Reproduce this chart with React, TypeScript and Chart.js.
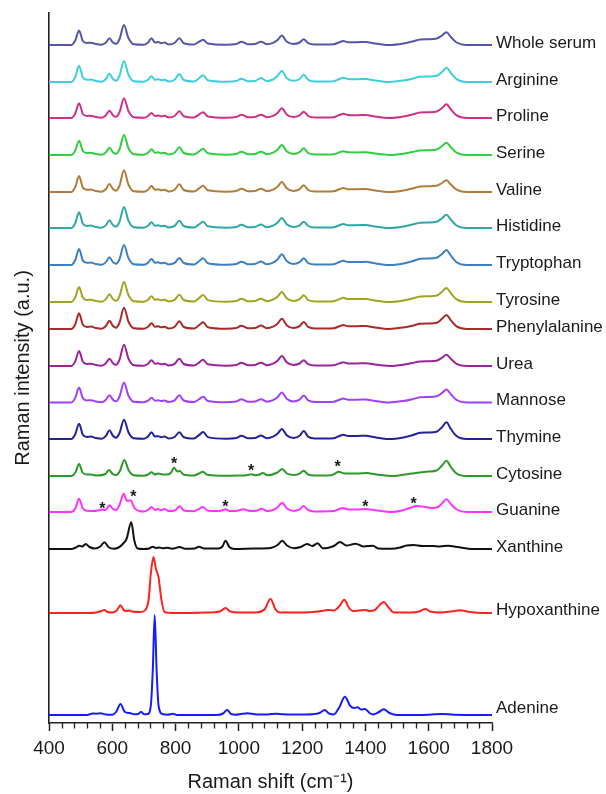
import React, { useEffect, useRef } from 'react';
import { Chart, registerables } from 'chart.js';

Chart.register(...registerables);

// ---------- data ----------
const xMin = 400;
const xMax = 1800;
const majorStep = 200;
const minorStep = 40;

const seriesNames = [
  'Whole serum', 'Arginine', 'Proline', 'Serine', 'Valine', 'Histidine',
  'Tryptophan', 'Tyrosine', 'Phenylalanine', 'Urea', 'Mannose', 'Thymine',
  'Cytosine', 'Guanine', 'Xanthine', 'Hypoxanthine', 'Adenine',
];

// vertical stacking offsets (a.u.)
const offsets = [678, 641, 605, 568, 531, 495, 458, 421, 394, 357, 320.5, 284, 247, 211, 174, 110, 8];

// shared Raman-shift grid of the serum-like spectra (cm-1)
const serumShift = [
  400, 470, 483, 495, 507, 520, 532,
  548, 566, 580, 591, 602, 612, 623, 637, 651, 668,
  700, 713, 724, 735, 745, 755, 765, 778, 797, 812, 826,
  858, 873, 887, 902, 960, 992, 1008, 1028,
  1050, 1070, 1088, 1108, 1122, 1136, 1151, 1172, 1192, 1205, 1219, 1240,
  1300, 1318, 1330, 1345, 1372, 1402, 1425, 1475,
  1520, 1548, 1573, 1600, 1625, 1642, 1656, 1670, 1688, 1720, 1800,
];

const wholeSerum = [
  0, 0, 4.5, 14.5, 4, 2, 2.3,
  1, 0.3, 2.5, 6.7, 2.5, 1.2, 6, 20, 7, 0.8,
  0.3, 2.5, 6.7, 2.5, 3, 1.8, 2.5, 0.5, 2, 6.7, 1.8,
  0.5, 3, 5.3, 1.5, 0.3, 1, 3.3, 0.8,
  1, 3.3, 0.8, 2.2, 5, 9.5, 3.5, 1, 2.5, 5.7, 1.8, 0.5,
  0.8, 2.8, 4, 2.8, 2.8, 3, 1.8, 0,
  1.5, 3.5, 5.5, 5.8, 6.5, 9.5, 12.8, 8, 2.5, 0, 0,
];
const arginine = [
  0, 0, 5, 16.3, 4.5, 2.2, 2.5,
  1, 0.3, 3, 8.3, 3, 1.3, 6.5, 21, 7.5, 0.8,
  0.3, 2.2, 5.7, 2.2, 2.8, 1.8, 2.3, 0.5, 2.3, 8, 2,
  0.5, 3.5, 6.7, 1.8, 0.3, 1, 3.3, 0.8,
  1, 4, 1, 2.5, 6, 11, 4, 1.2, 3, 7.3, 2.2, 0.5,
  0.8, 3, 4.3, 3, 2.8, 3, 1.8, 0,
  1.5, 3.3, 5.3, 5.5, 6.2, 10, 14.3, 9, 2.8, 0, 0,
];
const proline = [
  0, 0, 4.5, 14.7, 4, 2, 2.3,
  1, 0.3, 2.8, 7.3, 2.8, 1.2, 6, 19.7, 7, 0.8,
  0.3, 2, 5, 2, 2.5, 1.6, 2.2, 0.5, 2, 6.7, 1.8,
  0.5, 3.2, 5.7, 1.6, 0.3, 1, 3.3, 0.8,
  1, 3.3, 0.8, 2.2, 5, 9.7, 3.6, 1, 2.7, 6.3, 2, 0.5,
  0.8, 3, 4.3, 3, 2.8, 3, 1.8, 0,
  1.5, 3.5, 5.5, 5.8, 6.5, 10, 13.7, 8.5, 2.6, 0, 0,
];
const serine = [
  0, 0, 4.4, 14.3, 4, 2, 2.2,
  1, 0.3, 2.8, 7.3, 2.8, 1.2, 6, 20, 7, 0.8,
  0.3, 2.2, 5.7, 2.2, 2.7, 1.7, 2.3, 0.5, 2.2, 7.7, 2,
  0.5, 3.3, 6.3, 1.7, 0.3, 1, 3.3, 0.8,
  1, 3.3, 0.8, 2.3, 5.2, 10, 3.7, 1, 2.8, 6.7, 2, 0.5,
  0.8, 2.7, 3.8, 2.7, 2.6, 2.8, 1.7, 0,
  1.3, 3, 4.6, 4.8, 5.5, 9, 12.3, 7.7, 2.4, 0, 0,
];
const valine = [
  0, 0, 5, 16, 4.4, 2.2, 2.4,
  1, 0.3, 3, 8, 3, 1.3, 6.5, 21.7, 7.5, 0.8,
  0.3, 2.3, 6, 2.3, 2.8, 1.7, 2.3, 0.5, 2.2, 7.7, 2,
  0.5, 3.3, 6.3, 1.7, 0.3, 1, 3.3, 0.8,
  1, 3.3, 0.8, 2.3, 5.2, 10, 3.7, 1, 2.8, 6.7, 2, 0.5,
  0.8, 2.8, 4, 2.8, 2.8, 3, 1.8, 0,
  1.5, 3.5, 5.5, 5.8, 6.2, 9, 11.7, 7.5, 2.4, 0, 0,
];
const histidine = [
  0, 0, 4.8, 15.7, 4.3, 2.1, 2.4,
  1, 0.3, 2.9, 7.7, 2.9, 1.2, 6.3, 21, 7.3, 0.8,
  0.3, 2.2, 5.7, 2.2, 2.7, 1.7, 2.3, 0.5, 2.1, 7.3, 2,
  0.5, 3.3, 6.3, 1.7, 0.3, 1, 3.3, 0.8,
  1, 3.5, 0.8, 2.3, 5.2, 10, 3.7, 1, 2.7, 6.3, 2, 0.5,
  0.8, 2.8, 4, 2.8, 2.8, 3, 1.8, 0,
  1.5, 3.4, 5.3, 5.6, 6.2, 9.8, 13.3, 8.3, 2.5, 0, 0,
];
const tryptophan = [
  0, 0, 5, 16, 4.4, 2.2, 2.4,
  1, 0.3, 2.9, 7.7, 2.9, 1.2, 6, 20, 7, 0.8,
  0.3, 2.3, 6, 2.3, 2.7, 1.7, 2.3, 0.5, 2.1, 7, 2,
  0.5, 3.5, 6.7, 1.8, 0.3, 1, 3.3, 0.8,
  1, 3.5, 0.8, 2.4, 5.5, 10.7, 4, 1.1, 2.8, 6.7, 2, 0.5,
  0.8, 3, 4.3, 3, 3, 3.2, 1.9, 0,
  1.6, 3.8, 6.2, 6.5, 7.2, 11, 15, 9.3, 2.8, 0, 0,
];
const tyrosine = [
  0, 0, 4.6, 15, 4.2, 2.1, 2.3,
  1, 0.3, 2.9, 7.7, 2.9, 1.2, 6, 20, 7, 0.8,
  0.3, 2.2, 5.7, 2.2, 2.7, 1.7, 2.3, 0.5, 2.1, 7.3, 2,
  0.5, 3.6, 7, 1.9, 0.3, 1, 3.3, 0.8,
  1, 3.3, 0.8, 2.3, 5.2, 10, 3.7, 1, 2.8, 6.7, 2, 0.5,
  0.8, 2.9, 4.2, 2.9, 2.9, 3.1, 1.8, 0,
  1.5, 3.5, 5.5, 5.8, 6.5, 10.3, 14, 8.7, 2.6, 0, 0,
];
const phenylalanine = [
  0, 0, 4.8, 15.7, 4.3, 2.1, 2.4,
  1, 0.3, 3, 8.3, 3, 1.3, 6.5, 21.3, 7.5, 0.8,
  0.3, 2.2, 5.7, 2.2, 2.7, 1.7, 2.3, 0.5, 2.2, 7.7, 2,
  0.5, 3.5, 6.7, 1.8, 0.3, 1, 3.3, 0.8,
  1, 3.4, 0.8, 2.3, 5.3, 10.3, 3.8, 1, 2.9, 7, 2.1, 0.5,
  0.8, 2.8, 4, 2.8, 2.8, 3, 1.8, 0,
  1.5, 3.3, 5.2, 5.5, 6.2, 10.2, 14, 8.7, 2.6, 0, 0,
];
const urea = [
  0, 0, 4.6, 15, 4.2, 2.1, 2.3,
  1, 0.3, 2.8, 7.3, 2.8, 1.2, 6.5, 21.3, 7.5, 0.8,
  0.3, 2.2, 5.7, 2.2, 2.7, 1.7, 2.3, 0.5, 2.1, 7.3, 2,
  0.5, 3.2, 6.3, 1.7, 0.3, 1, 3.3, 0.8,
  1, 3.3, 0.8, 2.3, 5.2, 10, 3.7, 1, 2.5, 5.7, 1.8, 0.5,
  0.8, 2.6, 3.7, 2.6, 2.6, 2.8, 1.7, 0,
  1.3, 3, 4.6, 4.8, 5.3, 8.3, 11.3, 7.2, 2.2, 0, 0,
];
const mannose = [
  0, 0, 4.6, 15, 4.2, 2.1, 2.3,
  1, 0.3, 2.8, 7.3, 2.8, 1.2, 6, 20, 7, 0.8,
  0.3, 1.8, 4.7, 1.8, 2.3, 1.5, 2, 0.5, 2.1, 7.3, 2,
  0.5, 3, 5.7, 1.6, 0.3, 1, 3.3, 0.8,
  1, 3.3, 0.8, 2.3, 5.2, 10, 3.7, 1, 2.9, 7, 2.1, 0.5,
  0.8, 2.8, 4, 2.8, 2.8, 3, 1.8, 0,
  1.5, 3.3, 5.3, 5.6, 6.2, 9.6, 13, 8.2, 2.5, 0, 0,
];
const thymine = [
  0, 0, 4.7, 15.3, 4.3, 2.1, 2.4,
  1, 0.3, 3.2, 8.7, 3.2, 1.3, 6, 19.3, 6.8, 0.8,
  0.3, 2.5, 6.7, 2.5, 2.8, 1.8, 2.4, 0.5, 2, 6.7, 1.8,
  0.5, 3.6, 7, 1.9, 0.3, 1, 3.3, 0.8,
  1, 3.4, 0.8, 2.3, 5.2, 10, 3.8, 1.1, 3.2, 8, 2.4, 0.5,
  0.8, 3, 4.3, 3, 3, 3.3, 2, 0,
  1.6, 3.8, 6.2, 6.5, 7.3, 11.8, 16.7, 10, 3, 0, 0,
];

// [Raman shift, intensity] pairs
const cytosine = [
  [400, 0], [470, 0], [484, 3.8], [495, 12], [506, 3.5], [520, 1.5], [532, 1.5], [550, 0.5],
  [578, 2], [590, 6], [601, 2], [612, 1], [624, 5], [638, 16], [652, 5.5], [668, 0.8],
  [700, 0.3], [713, 1.5], [724, 3.7], [735, 1.5], [745, 2.5], [760, 1.5], [775, 1.5], [786, 3.5],
  [795, 8.3], [805, 4.5], [813, 5], [825, 1.5], [858, 0.5], [874, 2.5], [886, 4.3], [900, 1.3],
  [960, 0.3], [1000, 0.5], [1025, 0.8], [1039, 1.8], [1052, 0.8], [1064, 1.2], [1076, 3], [1090, 0.8],
  [1122, 3.5], [1137, 7], [1152, 2.5], [1175, 1], [1192, 2.3], [1205, 5.3], [1219, 1.5], [1240, 0.5],
  [1290, 0.8], [1304, 2.5], [1315, 4.3], [1330, 2.8], [1372, 2.5], [1405, 3], [1430, 1.8], [1490, 0],
  [1525, 1.5], [1565, 3.3], [1600, 4.5], [1625, 5.5], [1642, 10.5], [1656, 15.3], [1670, 9], [1688, 2.5],
  [1720, 0], [1800, 0],
];
const guanine = [
  [400, 0], [470, 0], [484, 4], [495, 13.3], [506, 4], [520, 1.2], [540, 1], [555, 1.5],
  [565, 2.3], [575, 2], [582, 3], [591, 6.7], [602, 3], [612, 2], [624, 8], [636, 18.3],
  [647, 11], [658, 11.7], [670, 4], [685, 1], [700, 0.5], [713, 2], [724, 5], [735, 2],
  [744, 3], [754, 1.8], [764, 3], [778, 1], [798, 1.5], [813, 5.7], [826, 1.5], [858, 0.8],
  [873, 2.8], [886, 5], [902, 1.3], [935, 1], [946, 1.5], [958, 2.7], [970, 1], [995, 1.2],
  [1015, 2.7], [1035, 1], [1055, 1.2], [1072, 3.3], [1090, 1], [1108, 2], [1123, 5], [1137, 9.3],
  [1152, 3.5], [1175, 1], [1192, 2.6], [1205, 6], [1219, 1.8], [1240, 0.6], [1300, 1], [1316, 2.8],
  [1328, 4], [1345, 2.5], [1375, 2.5], [1400, 3], [1425, 2], [1484, 0], [1515, 1.5], [1540, 4],
  [1565, 6], [1590, 5], [1612, 4], [1630, 5], [1642, 8.5], [1656, 12.7], [1670, 8], [1688, 2.5],
  [1720, 0], [1800, 0],
];
const xanthine = [
  [400, 0], [470, 0], [485, 1.5], [495, 3.3], [505, 2.5], [516, 5], [528, 2], [545, 0.5],
  [562, 2.5], [575, 6.7], [588, 2], [605, 0.3], [620, 1.5], [633, 5], [645, 10], [660, 26.7],
  [670, 8], [680, 0.5], [700, 0], [716, 0.5], [728, 2.3], [738, 1], [748, 1.5], [760, 0.8],
  [773, 1.2], [790, 0.3], [813, 2], [830, 0.3], [860, 0.5], [874, 2.3], [890, 0.5], [935, 0.5],
  [948, 2.5], [958, 8.3], [970, 2], [986, 0], [1050, 0.5], [1100, 1], [1122, 4], [1137, 8.3],
  [1152, 3.5], [1175, 0.8], [1195, 2], [1216, 5], [1232, 3], [1249, 5.7], [1265, 0.8], [1280, 1],
  [1300, 3], [1320, 7], [1340, 3.5], [1369, 5.3], [1395, 2.5], [1424, 3.3], [1440, 0.5], [1480, 0.3],
  [1510, 1.5], [1530, 3.5], [1552, 4], [1580, 3], [1613, 3], [1635, 2.5], [1662, 3.3], [1690, 2],
  [1740, 0], [1800, 0],
];
const hypoxanthine = [
  [400, 0], [520, 0], [550, 0.5], [565, 2], [575, 3], [585, 1], [600, 0.5], [614, 2.5],
  [626, 7.7], [638, 2.5], [648, 2], [654, 2.5], [662, 1.5], [690, 1], [705, 3], [715, 14],
  [722, 40], [730, 56], [738, 44], [746, 36], [755, 14], [765, 1], [790, 0], [900, 0.5],
  [940, 1.5], [958, 5], [972, 1.5], [1000, 0.5], [1060, 0.8], [1082, 4], [1100, 14.3], [1115, 4],
  [1130, 0.5], [1200, 0.5], [1250, 1.5], [1270, 2.5], [1284, 3], [1300, 2.5], [1318, 7], [1333, 13.3],
  [1348, 5], [1360, 2], [1380, 2.5], [1400, 3], [1412, 2], [1430, 3], [1445, 8], [1458, 11],
  [1472, 6], [1490, 0.5], [1540, 0.5], [1570, 1.5], [1589, 4], [1605, 1.5], [1640, 0.5], [1670, 1.5],
  [1699, 2.7], [1730, 1], [1770, 0], [1800, 0],
];
const adenine = [
  [400, 0], [520, 0], [538, 1.5], [548, 1.3], [563, 1.7], [580, 0.5], [600, 0.3], [612, 3],
  [626, 11], [640, 3], [655, 2], [670, 0.8], [682, 1], [691, 3.3], [700, 0.8], [712, 1],
  [722, 10], [728, 45], [734, 100], [740, 45], [746, 10], [758, 1], [775, 0.3], [791, 1.3],
  [805, 0], [930, 0], [950, 1.5], [963, 5], [976, 1], [990, 0.3], [1010, 1.2], [1027, 1.7],
  [1050, 0.8], [1090, 0.5], [1118, 1.3], [1140, 0.8], [1200, 0.5], [1240, 1], [1258, 2.5], [1271, 5],
  [1285, 1.5], [1300, 0.5], [1318, 8], [1335, 18.3], [1352, 9], [1365, 7], [1375, 7.7], [1387, 5.5],
  [1399, 6], [1413, 2], [1424, 0.5], [1440, 2.5], [1458, 5.7], [1476, 2], [1500, 0], [1600, 0.3],
  [1642, 1], [1680, 0.3], [1800, 0],
];

// asterisk marks: [series, Raman shift, height above baseline]
const asteriskSeries = ['Cytosine', 'Cytosine', 'Cytosine', 'Guanine', 'Guanine', 'Guanine', 'Guanine', 'Guanine'];
const asteriskShift = [795, 1039, 1312, 569, 667, 957, 1400, 1552];
const asteriskLevel = [16, 9.3, 12.7, 7, 18.7, 8.7, 8.7, 12];

// ---------- styles ----------
const colors = [
  '#5656a8', '#3fcfdc', '#cc3388', '#33cc44', '#b07d3a', '#2ea8a6',
  '#3d7fc4', '#a3a323', '#aa2a2a', '#9a259a', '#a040ff', '#222299',
  '#2b9a2b', '#ff33ff', '#111111', '#ff2222', '#1a1aff',
];
const labelLift = [2, 2, 2, 2, 2, 2, 2, 2, 2, 2, 2, 2, 2, 2, 2, 3, 7];
const FONT = '"Liberation Sans", Arial, Helvetica, sans-serif';
const INK = '#1a1a1a';

const serumLike = [
  wholeSerum, arginine, proline, serine, valine, histidine,
  tryptophan, tyrosine, phenylalanine, urea, mannose, thymine,
];
const pairSpectra = [cytosine, guanine, xanthine, hypoxanthine, adenine];

const spectra: { x: number; y: number }[][] = [
  ...serumLike.map((vals) => serumShift.map((x, i) => ({ x, y: vals[i] }))),
  ...pairSpectra.map((pts) => pts.map(([x, y]) => ({ x, y }))),
];

const overlayPlugin = {
  id: 'overlay',
  afterDraw(chart: any) {
    const { ctx, chartArea, scales } = chart;
    const xs = scales.x;
    const ys = scales.y;
    ctx.save();
    // series labels
    ctx.font = `17px ${FONT}`;
    ctx.fillStyle = INK;
    ctx.textAlign = 'left';
    ctx.textBaseline = 'middle';
    seriesNames.forEach((name, i) => {
      const py = ys.getPixelForValue(offsets[i] + labelLift[i]);
      ctx.fillText(name, chartArea.right + 4, py);
    });
    // asterisks
    ctx.font = `bold 16px ${FONT}`;
    ctx.textAlign = 'center';
    ctx.textBaseline = 'alphabetic';
    asteriskShift.forEach((s, k) => {
      const si = seriesNames.indexOf(asteriskSeries[k]);
      const px = xs.getPixelForValue(s);
      const py = ys.getPixelForValue(offsets[si] + asteriskLevel[k]);
      ctx.fillText('*', px, py + 9);
    });
    // minor ticks
    ctx.strokeStyle = '#222';
    ctx.lineWidth = 1.3;
    ctx.beginPath();
    for (let v = xMin + minorStep; v < xMax; v += minorStep) {
      if (v % majorStep === 0) continue;
      const px = Math.round(xs.getPixelForValue(v)) + 0.5;
      ctx.moveTo(px, chartArea.bottom);
      ctx.lineTo(px, chartArea.bottom + 5.5);
    }
    ctx.stroke();
    ctx.restore();
  },
};

export default function App() {
  const ref = useRef<HTMLCanvasElement | null>(null);

  useEffect(() => {
    if (!ref.current) return;
    Chart.defaults.font.family = FONT;
    Chart.defaults.color = INK;
    const chart = new Chart(ref.current, {
      type: 'line',
      data: {
        datasets: spectra.map((pts, i) => ({
          label: seriesNames[i],
          data: pts.map((p) => ({ x: p.x, y: p.y + offsets[i] })),
          borderColor: colors[i],
          backgroundColor: colors[i],
          borderWidth: 2,
          pointRadius: 0,
          pointHoverRadius: 0,
          fill: false,
          borderJoinStyle: 'round' as const,
          borderCapStyle: 'round' as const,
          cubicInterpolationMode: 'monotone' as const,
        })),
      },
      options: {
        responsive: false,
        animation: false,
        devicePixelRatio: 1,
        layout: { padding: { top: 13, right: 114, left: 0, bottom: 0 } },
        plugins: {
          legend: { display: false },
          tooltip: { enabled: false },
        },
        events: [],
        scales: {
          x: {
            type: 'linear',
            min: xMin,
            max: xMax,
            afterFit: (s: any) => {
              s.height = 71;
            },
            ticks: {
              stepSize: majorStep,
              autoSkip: false,
              maxRotation: 0,
              padding: 6,
              color: INK,
              font: { size: 19, family: FONT },
              callback: (v: any) => String(v),
            },
            grid: {
              display: true,
              drawOnChartArea: false,
              drawTicks: true,
              tickLength: 8,
              tickWidth: 1.5,
              tickColor: '#222',
            },
            border: { display: true, color: '#222', width: 1.6 },
            title: {
              display: true,
              text: 'Raman shift (cm\u207B\u00B9)',
              color: INK,
              font: { size: 20, family: FONT },
              padding: { top: 0, bottom: 0 },
            },
          },
          y: {
            type: 'linear',
            min: 0,
            max: 710,
            afterFit: (s: any) => {
              s.width = 49;
            },
            ticks: { display: false },
            grid: { display: false },
            border: { display: true, color: '#222', width: 1.6 },
            title: {
              display: true,
              text: 'Raman intensity (a.u.)',
              color: INK,
              font: { size: 20, family: FONT },
              padding: { top: 11, bottom: 0 },
            },
          },
        },
      },
      plugins: [overlayPlugin],
    });
    return () => chart.destroy();
  }, []);

  return (
    <div style={{ position: 'fixed', left: 0, top: 0, width: 606, height: 794, background: '#fff' }}>
      <canvas ref={ref} width={606} height={794} style={{ display: 'block' }} />
    </div>
  );
}
